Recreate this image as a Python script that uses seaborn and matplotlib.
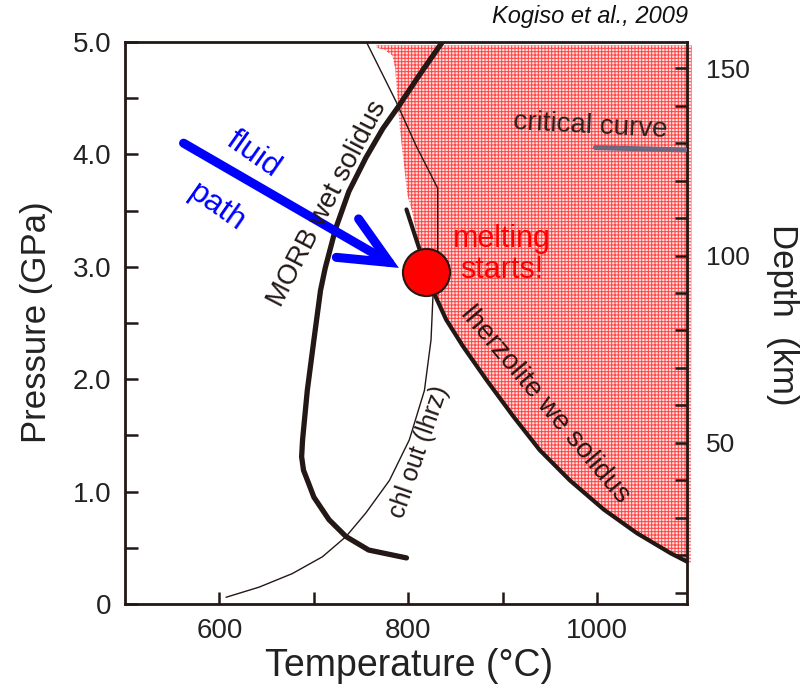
import numpy as np
import matplotlib
matplotlib.use("Agg")
import matplotlib.pyplot as plt
import seaborn as sns
from matplotlib.patches import Polygon, FancyArrowPatch
from matplotlib.ticker import MultipleLocator, FuncFormatter

# ---------------- data ----------------
# MORB wet solidus (Temperature degC, Pressure GPa)
morb_T = [836, 812, 789, 773, 755, 737, 723, 712, 707, 700, 693, 688, 687, 689, 695, 700, 716, 734, 758, 798]
morb_P = [5.00, 4.71, 4.42, 4.23, 3.97, 3.67, 3.34, 2.99, 2.79, 2.35, 1.90, 1.46, 1.31, 1.19, 1.06, 0.95, 0.75, 0.60, 0.48, 0.41]

# chlorite-out (lherzolite) curve
chl_T = [755, 787, 808, 831, 831, 826, 824, 817, 801, 780, 755, 734, 709, 677, 642, 607]
chl_P = [5.01, 4.47, 4.08, 3.70, 3.16, 2.73, 2.35, 1.90, 1.46, 1.10, 0.81, 0.60, 0.42, 0.27, 0.15, 0.06]

# lherzolite wet solidus
lherz_T = [798, 812, 819, 828, 840, 858, 883, 911, 939, 971, 1007, 1042, 1078, 1099]
lherz_P = [3.51, 3.15, 2.95, 2.75, 2.53, 2.29, 1.99, 1.67, 1.37, 1.10, 0.84, 0.63, 0.45, 0.36]

# melt field: upper/left boundary (clockwise from the top-left corner)
field_top_T = [766, 1100]
field_top_P = [4.97, 4.97]
field_left_T = [804, 799, 791, 786, 783, 775, 766]
field_left_P = [3.49, 3.64, 4.23, 4.77, 4.88, 4.93, 4.95]

# critical curve segment
crit_T = [998, 1093]
crit_P = [4.06, 4.04]

# fluid path arrow and melting point
arrow_start = (562, 4.10)
arrow_end = (790, 2.99)
melt_T = [819]
melt_P = [2.95]

# axes
x_ticks = [600, 700, 800, 900, 1000]
x_labels = ["600", "", "800", "", "1000"]
y_ticks = [0, 0.5, 1.0, 1.5, 2.0, 2.5, 3.0, 3.5, 4.0, 4.5, 5.0]
y_labels = ["0", "", "1.0", "", "2.0", "", "3.0", "", "4.0", "", "5.0"]
depth_offset_km = 7      # depth at P = 0
depth_per_gpa = 30       # km per GPa

# ---------------- style ----------------
sns.set_style("white")
plt.rcParams["font.family"] = ["Liberation Sans", "DejaVu Sans"]
plt.rcParams["hatch.linewidth"] = 0.75

INK = "#231815"
W, H = 809, 689
fig = plt.figure(figsize=(W / 100, H / 100), dpi=100)
L, R, B, T = 125, 687, 604, 42
ax = fig.add_axes([L / W, 1 - B / H, (R - L) / W, (B - T) / H])
ax.set_xlim(500, 1095)
ax.set_ylim(0, 5)

# melt field (hatched red)
poly_T = field_top_T + lherz_T[::-1][:-1] + field_left_T
poly_P = field_top_P + lherz_P[::-1][:-1] + field_left_P
field = Polygon(np.column_stack([poly_T, poly_P]), closed=True,
                facecolor="#ffe4e4", edgecolor="#ff4848", hatch="+++++",
                linewidth=0, zorder=1, clip_on=False)
ax.add_patch(field)

# curves
sns.lineplot(x=chl_T, y=chl_P, sort=False, estimator=None, color=INK,
             linewidth=1.0, ax=ax, zorder=3)
sns.lineplot(x=morb_T, y=morb_P, sort=False, estimator=None, color=INK,
             linewidth=3.8, ax=ax, zorder=4)
sns.lineplot(x=lherz_T, y=lherz_P, sort=False, estimator=None, color=INK,
             linewidth=3.0, ax=ax, zorder=4)
sns.lineplot(x=crit_T, y=crit_P, sort=False, estimator=None, color="#6f6680",
             linewidth=3.6, ax=ax, zorder=4)

# fluid path arrow
arr = FancyArrowPatch(posA=arrow_start, posB=arrow_end,
                      arrowstyle="->,head_length=1.75,head_width=0.8",
                      mutation_scale=20, lw=6.5, color="#0000ff",
                      shrinkA=0, shrinkB=0, capstyle="round", joinstyle="miter",
                      zorder=5)
ax.add_patch(arr)

# melting point
sns.scatterplot(x=melt_T, y=melt_P, s=1150, color="#ff0000", edgecolor=INK,
                linewidth=1.5, ax=ax, zorder=6, legend=False)

# annotations
ax.text(636, 4.00, "fluid", color="#0000ff", fontsize=23, rotation=-35,
        ha="center", va="center", zorder=7)
ax.text(597, 3.53, "path", color="#0000ff", fontsize=23, rotation=-35,
        ha="center", va="center", zorder=7)
ax.text(714, 3.56, "MORB wet solidus", color=INK, fontsize=20, rotation=62.5,
        ha="center", va="center", rotation_mode="anchor", zorder=7)
ax.text(899, 3.11, "melting\nstarts!", color="#ff0000", fontsize=22,
        ha="center", va="center", linespacing=1.05, zorder=7)
ax.text(945, 1.77, "lherzolite we solidus", color="#2a1414", fontsize=20,
        rotation=-50, ha="center", va="center", rotation_mode="anchor", zorder=7)
ax.text(811, 1.35, "chl out (lhrz)", color=INK, fontsize=18, rotation=71,
        ha="center", va="center", rotation_mode="anchor", zorder=7)
ax.text(993, 4.25, "critical curve", color="#2a2020", fontsize=20, rotation=-3,
        ha="center", va="center", rotation_mode="anchor", zorder=7)
fig.text(688 / W, 1 - 16 / H, "Kogiso et al., 2009", fontsize=17, style="italic",
         ha="right", va="center", color="#111111")

# axes styling
for s in ax.spines.values():
    s.set_color(INK)
    s.set_linewidth(2.0)
ax.set_xticks(x_ticks)
ax.set_xticklabels(x_labels)
ax.set_yticks(y_ticks)
ax.set_yticklabels(y_labels)
ax.tick_params(axis="x", direction="in", length=9, width=1.8, color=INK,
               labelsize=20, pad=10, bottom=True, top=False, labelcolor="#222222")
ax.tick_params(axis="y", direction="in", length=9, width=1.8, color=INK,
               labelsize=20, pad=10, left=True, right=False, labelcolor="#222222")
ax.set_xlabel("Temperature (°C)", fontsize=27, color="#222222", va="center")
ax.xaxis.set_label_coords((409 - L) / (R - L), (B - 666) / (B - T))
ax.set_ylabel("Pressure (GPa)", fontsize=25, color="#222222", va="center")
ax.yaxis.set_label_coords((37 - L) / (R - L), (B - 322) / (B - T))

# depth axis
ax2 = ax.twinx()
ax2.set_ylim(depth_offset_km, depth_offset_km + 5 * depth_per_gpa)
ax2.yaxis.set_major_locator(MultipleLocator(10))
ax2.yaxis.set_major_formatter(FuncFormatter(
    lambda v, _: f"{int(round(v))}" if int(round(v)) % 50 == 0 else ""))
ax2.tick_params(axis="y", direction="in", length=9, width=1.8, color=INK,
                labelsize=19, pad=14, right=True, left=False, labelcolor="#222222")
for s in ax2.spines.values():
    s.set_visible(False)
ax2.set_ylabel("Depth  (km)", fontsize=25, rotation=270, color="#222222", va="center")
ax2.yaxis.set_label_coords((783 - L) / (R - L), (B - 315) / (B - T))

fig.savefig("out.png", dpi=100)
